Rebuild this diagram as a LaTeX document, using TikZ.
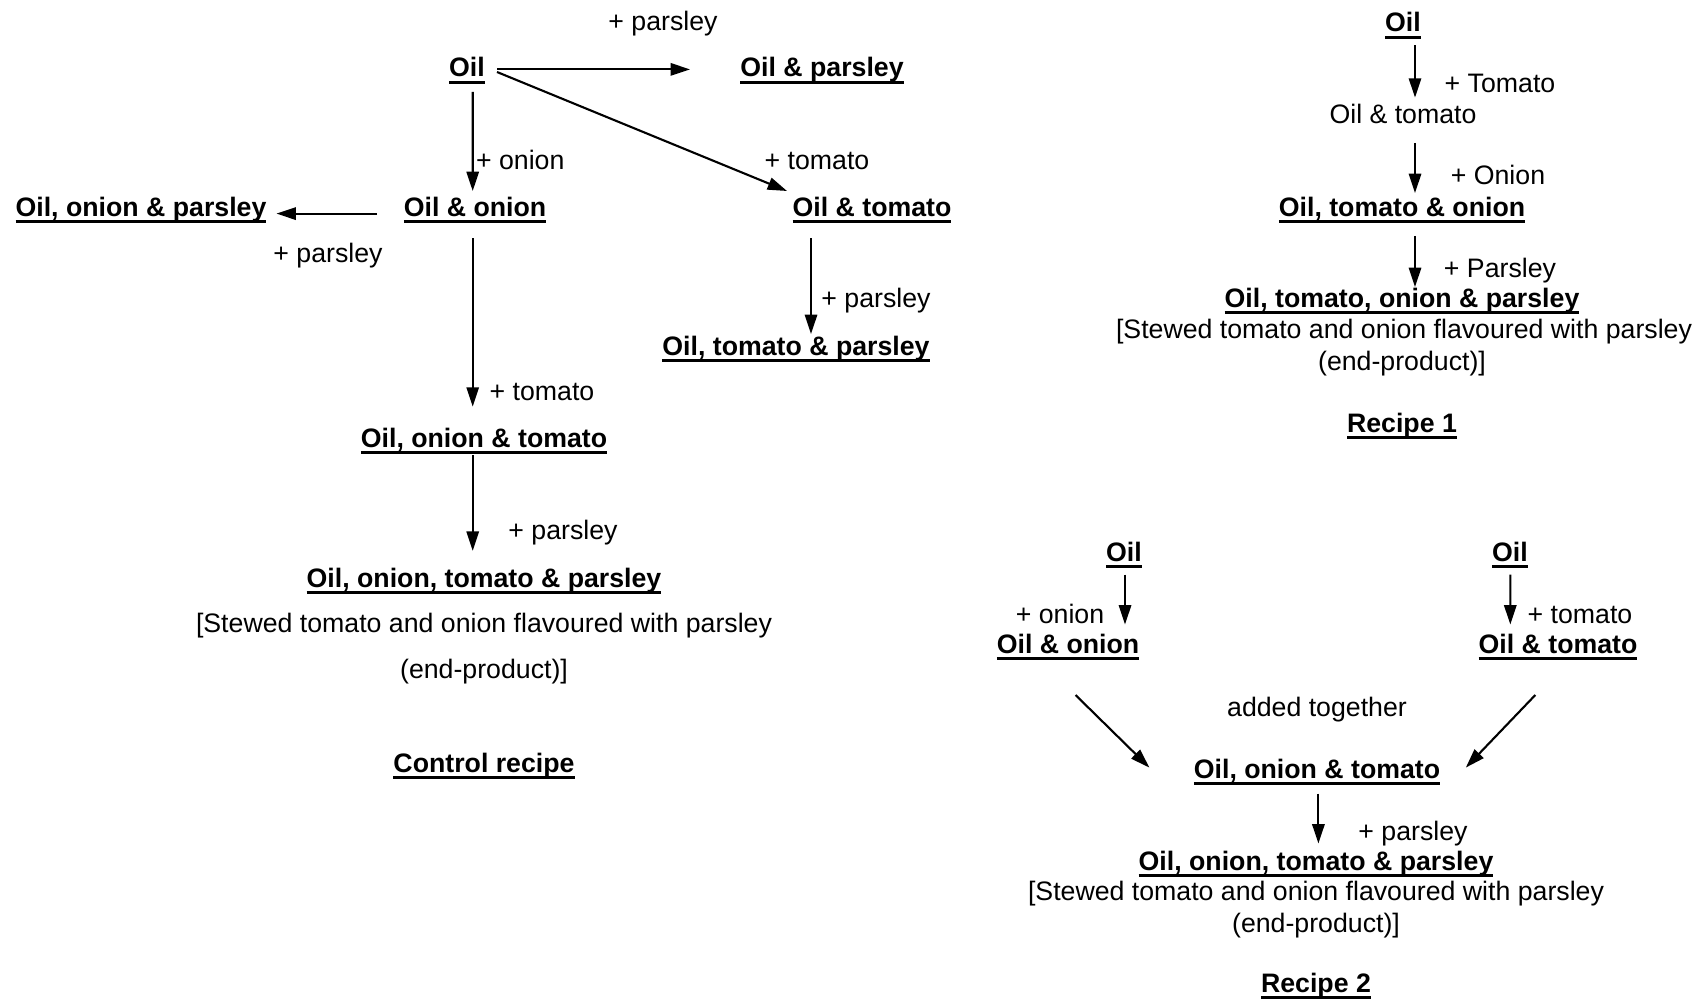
\documentclass[tikz,border=0pt]{standalone}
\usepackage{fontspec}
\setmainfont{Liberation Sans}
\usepackage{tikz}
\usetikzlibrary{arrows.meta, positioning}

\newcommand{\recipefont}{\fontsize{15.2}{18}\selectfont}
\newsavebox{\ulsave}
\newcommand{\ultext}[1]{\sbox{\ulsave}{#1}\rlap{\rule[-3.8pt]{\wd\ulsave}{1.7pt}}\usebox{\ulsave}}

\begin{document}
\begin{tikzpicture}[
  x=0.02cm, y=-0.02cm,
  stage/.style={font=\recipefont\bfseries, anchor=base, inner sep=1pt, text depth=4pt},
  plain/.style={font=\recipefont, anchor=base, inner sep=1pt},
  flow/.style={-{Triangle[length=11pt,width=7pt]}, line width=1.2pt}
]
  \useasboundingbox (0,0) rectangle (1700,1000);

  % control recipe
  \node[stage] (oilC)   at (467,77)  {\ultext{Oil}};
  \node[stage] (parsC)  at (822,77)  {\ultext{Oil \& parsley}};
  \node[stage] (onionC) at (475,216) {\ultext{Oil \& onion}};
  \node[stage] (onpC)   at (141,216) {\ultext{Oil, onion \& parsley}};
  \node[stage] (tomC)   at (872,216) {\ultext{Oil \& tomato}};
  \node[stage] (tpC)    at (796,355) {\ultext{Oil, tomato \& parsley}};
  \node[stage] (onTC)   at (484,447) {\ultext{Oil, onion \& tomato}};
  \node[stage] (finC)   at (484,587) {\ultext{Oil, onion, tomato \& parsley}};
  \node[plain] (stewC)  at (484,632) {[Stewed tomato and onion flavoured with parsley};
  \node[plain] (endC)   at (484,678) {(end-product)]};
  \node[stage] (titleC) at (484,772) {\ultext{Control recipe}};

  \node[plain] (lParsC1) at (663,31)  {+ parsley};
  \node[plain, anchor=base west] (lOnC) at (474,170) {+ onion};
  \node[plain] (lTomC1)  at (817,170) {+ tomato};
  \node[plain] (lParsC2) at (328,262) {+ parsley};
  \node[plain] (lParsC3) at (876,307) {+ parsley};
  \node[plain] (lTomC2)  at (542,400) {+ tomato};
  \node[plain] (lParsC4) at (563,539) {+ parsley};

  \draw[flow] ([shift={(30,-7.6)}]oilC.base) -- ([shift={(-132,-7.6)}]parsC.base);
  \draw[flow] ([shift={(30,-5)}]oilC.base) -- ([shift={(-85,-25)}]tomC.base);
  \draw[flow] ([shift={(5.7,15)}]oilC.base) -- ([shift={(-2.3,-25)}]onionC.base);
  \draw[flow] ([shift={(-98,-2.4)}]onionC.base) -- ([shift={(135.5,-2.4)}]onpC.base);
  \draw[flow] ([shift={(-2.3,22.5)}]onionC.base) -- ([shift={(-11.3,-40.4)}]onTC.base);
  \draw[flow] ([shift={(-11.3,8.4)}]onTC.base) -- ([shift={(-11.3,-36.2)}]finC.base);
  \draw[flow] ([shift={(-61,22.5)}]tomC.base) -- ([shift={(15,-21)}]tpC.base);

  % recipe 1
  \node[stage] (oilA)   at (1403,32)  {\ultext{Oil}};
  \node[plain] (tomA)   at (1403,124) {Oil \& tomato};
  \node[stage] (totA)   at (1402,216) {\ultext{Oil, tomato \& onion}};
  \node[stage] (allA)   at (1402,307) {\ultext{Oil, tomato, onion \& parsley}};
  \node[plain] (stewA)  at (1404,338) {[Stewed tomato and onion flavoured with parsley};
  \node[plain] (endA)   at (1402,370) {(end-product)]};
  \node[stage] (titleA) at (1402,432) {\ultext{Recipe 1}};

  \node[plain] (lTomA) at (1500,93)  {+ Tomato};
  \node[plain] (lOnA)  at (1498,185) {+ Onion};
  \node[plain] (lParA) at (1500,277) {+ Parsley};

  \draw[flow] ([shift={(12,13.5)}]oilA.base) -- ([shift={(12,-26.4)}]tomA.base);
  \draw[flow] ([shift={(12,19)}]tomA.base) -- ([shift={(13,-23)}]totA.base);
  \draw[flow] ([shift={(13,20)}]totA.base) -- ([shift={(13,-20)}]allA.base);

  % recipe 2
  \node[stage] (oilL)   at (1124,561) {\ultext{Oil}};
  \node[stage] (oilR)   at (1510,561) {\ultext{Oil}};
  \node[stage] (onionB) at (1068,653) {\ultext{Oil \& onion}};
  \node[stage] (tomB)   at (1558,653) {\ultext{Oil \& tomato}};
  \node[plain] (togB)   at (1317,716) {added together};
  \node[stage] (onTB)   at (1317,778) {\ultext{Oil, onion \& tomato}};
  \node[stage] (allB)   at (1316,870) {\ultext{Oil, onion, tomato \& parsley}};
  \node[plain] (stewB)  at (1316,900) {[Stewed tomato and onion flavoured with parsley};
  \node[plain] (endB)   at (1316,932) {(end-product)]};
  \node[stage] (titleB) at (1316,992) {\ultext{Recipe 2}};

  \node[plain] (lOnB)  at (1060,623) {+ onion};
  \node[plain] (lTomB) at (1580,623) {+ tomato};
  \node[plain] (lParB) at (1413,840) {+ parsley};

  \draw[flow] ([shift={(1,13.6)}]oilL.base) -- ([shift={(57,-28.5)}]onionB.base);
  \draw[flow] ([shift={(0.3,13.6)}]oilR.base) -- ([shift={(-47.7,-28.5)}]tomB.base);
  \draw[flow] ([shift={(7.5,42)}]onionB.base) -- ([shift={(-167.6,-10.4)}]onTB.base);
  \draw[flow] ([shift={(-22.7,42)}]tomB.base) -- ([shift={(148.8,-10.4)}]onTB.base);
  \draw[flow] ([shift={(1.4,15.6)}]onTB.base) -- ([shift={(2.4,-26.5)}]allB.base);
\end{tikzpicture}
\end{document}
